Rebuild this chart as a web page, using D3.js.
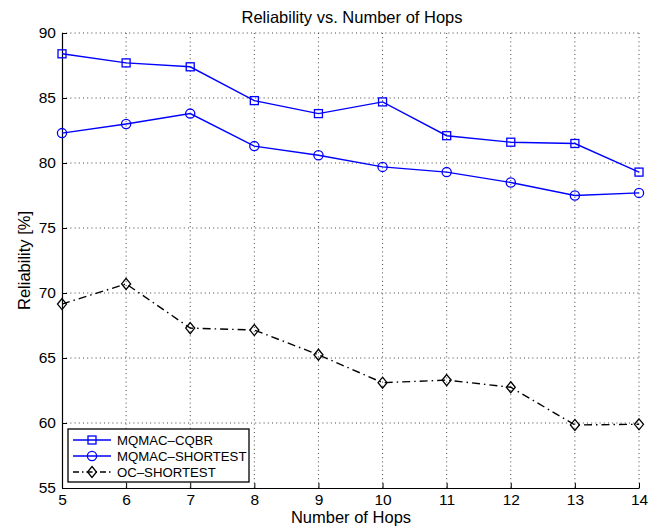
<!DOCTYPE html>
<html>
<head>
<meta charset="utf-8">
<script src="https://cdn.jsdelivr.net/npm/d3@7"></script>
<style>
  body { margin: 0; background: #fff; }
  svg { font-family: "Liberation Sans", Arial, sans-serif; }
</style>
</head>
<body>
<div id="chart"></div>
<script>
var hops = [5, 6, 7, 8, 9, 10, 11, 12, 13, 14];
var cqbr = [88.4, 87.7, 87.4, 84.8, 83.8, 84.7, 82.1, 81.6, 81.5, 79.3];
var shortest = [82.3, 83.0, 83.8, 81.3, 80.6, 79.7, 79.3, 78.5, 77.5, 77.7];
var ocShortest = [69.15, 70.7, 67.3, 67.15, 65.25, 63.1, 63.3, 62.75, 59.85, 59.9];
var yTicks = [55, 60, 65, 70, 75, 80, 85, 90];
var seriesNames = ["MQMAC\u2013CQBR", "MQMAC\u2013SHORTEST", "OC\u2013SHORTEST"];

var W = 657, H = 528;
// plot box edges (note: "top" is reserved on window, so use prefixed names)
var pLeft = 62, pRight = 639, pTop = 33, pBottom = 488;

var svg = d3.select("#chart").append("svg")
  .attr("width", W).attr("height", H);

var x = d3.scaleLinear().domain([5, 14]).range([pLeft, pRight]);
var y = d3.scaleLinear().domain([55, 90]).range([pBottom, pTop]);

// grid (dotted)
var grid = svg.append("g").attr("stroke", "#444").attr("stroke-width", 1)
  .attr("stroke-dasharray", "1,3.2");
grid.selectAll(".vg").data(hops.slice(1)).enter().append("line")
  .attr("x1", function(d){ return x(d); }).attr("x2", function(d){ return x(d); })
  .attr("y1", pTop).attr("y2", pBottom);
grid.selectAll(".hg").data(yTicks.slice(1)).enter().append("line")
  .attr("y1", function(d){ return y(d); }).attr("y2", function(d){ return y(d); })
  .attr("x1", pLeft).attr("x2", pRight);

// axes
var xAxis = d3.axisBottom(x).tickValues(hops).tickSizeInner(-5).tickSizeOuter(0).tickPadding(6);
var yAxis = d3.axisLeft(y).tickValues(yTicks).tickSizeInner(-5).tickSizeOuter(0).tickPadding(6);

function styleAxis(g) {
  g.select(".domain").attr("stroke", "#000").attr("stroke-width", 1.2);
  g.selectAll("text").attr("font-size", 15.5).attr("fill", "#000")
    .attr("font-family", "Liberation Sans, Arial, sans-serif");
}

svg.append("g").attr("transform", "translate(0," + pBottom + ")").call(xAxis).call(styleAxis);
svg.append("g").attr("transform", "translate(" + pLeft + ",0)").call(yAxis).call(styleAxis);

// lines
var line = d3.line().x(function(d){ return x(d[0]); }).y(function(d){ return y(d[1]); });
function pairs(vals){ return hops.map(function(h, i){ return [h, vals[i]]; }); }

var series = [
  { vals: cqbr, color: "#0000ff", dash: null, marker: "square" },
  { vals: shortest, color: "#0000ff", dash: null, marker: "circle" },
  { vals: ocShortest, color: "#000", dash: "8,4,1.5,4", marker: "diamond" }
];

function drawMarker(g, type, cx, cy, color) {
  if (type === "square") {
    g.append("rect").attr("x", cx - 4).attr("y", cy - 4).attr("width", 8).attr("height", 8)
      .attr("fill", "none").attr("stroke", color).attr("stroke-width", 1.3);
  } else if (type === "circle") {
    g.append("circle").attr("cx", cx).attr("cy", cy).attr("r", 4.6)
      .attr("fill", "none").attr("stroke", color).attr("stroke-width", 1.3);
  } else {
    g.append("path").attr("d", "M" + cx + "," + (cy - 5.5) + "L" + (cx + 4.5) + "," + cy +
      "L" + cx + "," + (cy + 5.5) + "L" + (cx - 4.5) + "," + cy + "Z")
      .attr("fill", "none").attr("stroke", color).attr("stroke-width", 1.3);
  }
}

series.forEach(function(s){
  svg.append("path").datum(pairs(s.vals)).attr("d", line)
    .attr("fill", "none").attr("stroke", s.color).attr("stroke-width", 1.4)
    .attr("stroke-dasharray", s.dash);
  var mg = svg.append("g");
  pairs(s.vals).forEach(function(p){
    drawMarker(mg, s.marker, x(p[0]), y(p[1]), s.color);
  });
});

// legend
var lg = svg.append("g");
lg.append("rect").attr("x", 68).attr("y", 429).attr("width", 181).attr("height", 53)
  .attr("fill", "#fff").attr("stroke", "#000").attr("stroke-width", 1.3);
series.forEach(function(s, i){
  var ly = 440 + i * 16;
  lg.append("line").attr("x1", 73).attr("x2", 111).attr("y1", ly).attr("y2", ly)
    .attr("stroke", s.color).attr("stroke-width", 1.4)
    .attr("stroke-dasharray", s.dash ? "6,3,1.5,3" : null);
  drawMarker(lg, s.marker, 92, ly, s.color);
  lg.append("text").attr("x", 117).attr("y", ly + 5).attr("font-size", 13.2)
    .attr("fill", "#000").text(seriesNames[i]);
});

// titles
svg.append("text").attr("x", 352).attr("y", 23).attr("text-anchor", "middle")
  .attr("font-size", 16.5).text("Reliability vs. Number of Hops");
svg.append("text").attr("x", 351).attr("y", 523).attr("text-anchor", "middle")
  .attr("font-size", 16.5).text("Number of Hops");
svg.append("text").attr("transform", "translate(30," + ((pTop + pBottom) / 2) + ") rotate(-90)")
  .attr("text-anchor", "middle").attr("font-size", 16.5).text("Reliability [%]");
</script>
</body>
</html>
